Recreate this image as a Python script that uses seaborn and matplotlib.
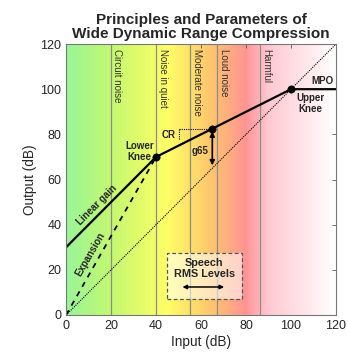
import numpy as np
import pandas as pd
import seaborn as sns
import matplotlib
matplotlib.use("Agg")
import matplotlib.pyplot as plt
from matplotlib.colors import LinearSegmentedColormap
from matplotlib.patches import Rectangle

# ---- data ----
region_bounds = [20, 40, 55, 67, 86]
region_labels = ["Circuit noise", "Noise in quiet", "Moderate noise", "Loud noise", "Harmful"]
region_label_x = [22.7, 43.0, 58.0, 70.0, 89.0]

wdrc_input = [40, 65, 100, 120]
wdrc_output = [70, 82.5, 100, 100]
linear_input = [0, 40]
linear_output = [30, 70]
expansion_input = [0, 40]
expansion_output = [0, 70]
unity_input = [0, 120]
unity_output = [0, 120]
knee_input = [40, 65, 100]
knee_output = [70, 82.5, 100]

grad_pos = [0, 20, 45, 65, 80, 90, 120]
grad_colors = ["#99f599", "#c4f870", "#ffff66", "#ffc46e", "#ff9494", "#ffc8d2", "#ffffff"]

sns.set_style("white")
plt.rcParams["font.family"] = ["Liberation Sans", "DejaVu Sans"]

fig = plt.figure(figsize=(3.48, 3.55), dpi=100)
ax = fig.add_axes([0.19, 0.1127, 0.7755, 0.7633])

cmap = LinearSegmentedColormap.from_list(
    "bg", [(p / 120, c) for p, c in zip(grad_pos, grad_colors)])
grad = np.linspace(0, 1, 512).reshape(1, -1)
ax.imshow(grad, extent=[0, 120, 0, 120], aspect="auto", cmap=cmap, origin="lower", zorder=0)

for b in region_bounds:
    ax.axvline(b, color="#8c8c8c", lw=0.9, zorder=1)
for lab, xx in zip(region_labels, region_label_x):
    ax.text(xx, 118, lab, rotation=-90, ha="center", va="top", fontsize=7, color="#333333", zorder=3)

# unity line
sns.lineplot(x=unity_input, y=unity_output, ax=ax, color="black", lw=0.8, linestyle=(0, (1, 1)), zorder=2)
# expansion
sns.lineplot(x=expansion_input, y=expansion_output, ax=ax, color="black", lw=1.3, linestyle=(0, (3, 3)), zorder=2)
# linear
sns.lineplot(x=linear_input, y=linear_output, ax=ax, color="black", lw=1.6, zorder=2)
# WDRC
sns.lineplot(x=wdrc_input, y=wdrc_output, ax=ax, color="black", lw=1.6, zorder=2)
sns.scatterplot(x=knee_input, y=knee_output, ax=ax, color="black", s=28, zorder=4, edgecolor="black")

# CR triangle
ax.plot([50, 65], [82.5, 82.5], color="black", lw=0.8, linestyle=(0, (1, 1)), zorder=2)
ax.plot([50, 50], [82.5, 77.5], color="black", lw=0.8, linestyle=(0, (1, 1)), zorder=2)
ax.text(48.5, 79.5, "CR", ha="right", va="center", fontsize=7, fontweight="bold")

# g65 arrow
ax.annotate("", xy=(65, 65), xytext=(65, 82.5),
            arrowprops=dict(arrowstyle="<|-|>", color="black", lw=1.2, mutation_scale=7), zorder=3)
ax.text(63.5, 72.5, "g65", ha="right", va="center", fontsize=7, fontweight="bold")

ax.text(32.5, 72.5, "Lower\nKnee", ha="center", va="center", fontsize=7, fontweight="bold", linespacing=1.1)
ax.text(108.5, 93.5, "Upper\nKnee", ha="center", va="center", fontsize=7, fontweight="bold", linespacing=1.1)
ax.text(114, 101.5, "MPO", ha="center", va="bottom", fontsize=7, fontweight="bold")
ax.text(13.8, 48.5, "Linear gain", rotation=45, ha="center", va="center", fontsize=7, fontweight="bold", rotation_mode="anchor")
ax.text(10.8, 27, "Expansion", rotation=60, ha="center", va="center", fontsize=7, fontweight="bold", rotation_mode="anchor")

# speech box
ax.add_patch(Rectangle((45, 7), 33, 20.5, facecolor="white", alpha=0.55, edgecolor="none", zorder=2))
ax.add_patch(Rectangle((45, 7), 33, 20.5, facecolor="none", edgecolor="#555555", lw=0.9, linestyle=(0, (3, 2)), zorder=3))
ax.text(61.5, 20.7, "Speech\nRMS Levels", ha="center", va="center", fontsize=7.8, fontweight="bold", linespacing=1.15, zorder=4)
ax.annotate("", xy=(50.5, 12.4), xytext=(71.5, 12.4),
            arrowprops=dict(arrowstyle="<|-|>", color="black", lw=1.1, mutation_scale=6), zorder=4)

ax.set_xlim(0, 120)
ax.set_ylim(0, 120)
ax.set_xticks(range(0, 121, 20))
ax.set_yticks(range(0, 121, 20))
ax.tick_params(direction="in", length=3, labelsize=9, colors="#262626", top=True, right=True, width=0.6)
ax.tick_params(axis="both", which="both", color="#555555")
for s in ax.spines.values():
    s.set_color("#777777")
    s.set_linewidth(0.8)
ax.set_xlabel("Input (dB)", fontsize=9.8, color="#262626", labelpad=2)
ax.set_ylabel("Output (dB)", fontsize=9.8, color="#262626", labelpad=2)
ax.set_title("Principles and Parameters of\nWide Dynamic Range Compression", fontsize=11,
             fontweight="bold", pad=4, linespacing=1.05)

fig.savefig("out.png", dpi=100)
